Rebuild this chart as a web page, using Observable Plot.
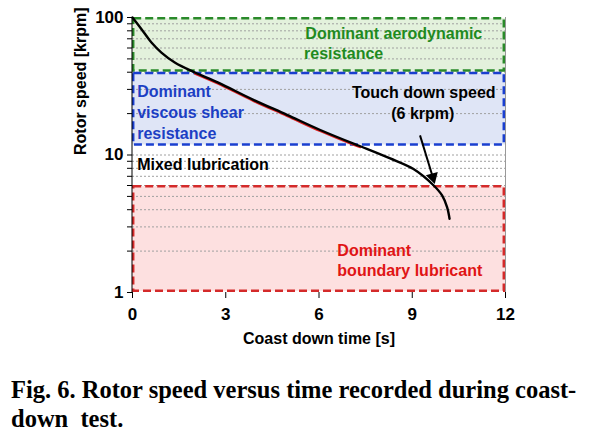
<!DOCTYPE html>
<html>
<head>
<meta charset="utf-8">
<script src="https://cdn.jsdelivr.net/npm/d3@7"></script>
<script src="https://cdn.jsdelivr.net/npm/@observablehq/plot@0.6"></script>
<style>
  html, body { margin: 0; padding: 0; background: #fff; }
  #wrap { position: relative; width: 595px; height: 438px; }
  #caption { position: absolute; left: 11px; top: 375px; width: 580px;
    font-family: "Liberation Serif", "Times New Roman", serif; font-weight: bold;
    font-size: 24.5px; line-height: 29px; color: #000; white-space: nowrap; }
  #chart svg g[aria-label$="tick label"] { font-size: 17px; font-weight: bold; }
</style>
</head>
<body>
<div id="wrap"><div id="chart"></div>
<div id="caption">Fig. 6. Rotor speed versus time recorded during coast-<br>down&nbsp;&nbsp;test.</div></div>
<script>
// Coast-down curve (time in s, rotor speed in krpm)
const time  = [0, 0.29, 0.61, 0.93, 1.36, 2.01, 2.76, 3.89, 4.97, 6.04, 7.11, 7.54, 8.29, 9.04, 9.69, 9.96, 10.12, 10.2];
const speed = [100, 82.2, 65.8, 55.6, 47.1, 39.8, 33.6, 25.2, 19.6, 15.2, 12.1, 11.1, 9.45, 7.9, 6.0, 5.08, 4.17, 3.44];
// Fitted viscous-shear segment (red)
const fitTime  = [2.01, 2.76, 3.89, 4.97, 6.04, 7.11, 7.33];
const fitSpeed = [39.8, 33.6, 25.2, 19.6, 15.2, 12.1, 11.6];
// Regimes
const regimeNames = ["aero", "viscous", "boundary"];
const regimeLow   = [40, 11.6, 1];
const regimeHigh  = [100, 40, 6];
const regimeFill  = ["#e3f1dc", "#dfe5f6", "#fde0e0"];
const regimeStroke= ["#2a8a2a", "#1a3fd0", "#d42a2a"];
// Ticks
const xTicks = [0, 3, 6, 9, 12];
const yMajor = [1, 10, 100];
const yMinor = [2,3,4,5,6,7,8,9,20,30,40,50,60,70,80,90];
const gridVals = [2,3,4,5,6,7,8,9,10,20,30,40,50,60,70,80,90];

const curve = time.map((t, i) => ({t, s: speed[i]}));
const fit = fitTime.map((t, i) => ({t, s: fitSpeed[i]}));
const regimes = regimeNames.map((n, i) => ({n, lo: regimeLow[i], hi: regimeHigh[i], fill: regimeFill[i], stroke: regimeStroke[i]}));

const F = "Liberation Sans, Arial, Helvetica, sans-serif";
const lab = (text, x, y, color, anchor = "start") =>
  Plot.text([text], {x: () => x, y: () => y, text: d => d, fill: color, textAnchor: anchor,
    fontSize: 16, fontWeight: "bold", fontFamily: F, lineAnchor: "middle"});

const chart = Plot.plot({
  width: 595, height: 352,
  marginTop: 17, marginBottom: 60, marginLeft: 132, marginRight: 90,
  style: {fontFamily: F, fontSize: "16px", fontWeight: "bold", color: "#000", background: "#fff"},
  x: {domain: [0, 12]},
  y: {type: "log", domain: [1, 100]},
  marks: [
    Plot.rect(regimes, {x1: 0, x2: 12, y1: "lo", y2: "hi", fill: "fill", insetTop: 1.2, insetBottom: 1.2}),
    Plot.ruleY(gridVals, {x1: 0, x2: 12, stroke: "#a0a0a0", strokeWidth: 1, strokeDasharray: "2,2"}),
    Plot.ruleX([12], {y1: 1, y2: 100, stroke: "#999", strokeWidth: 1}),
    Plot.rect(regimes, {x1: 0, x2: 12, y1: "lo", y2: "hi", fill: "none", stroke: "stroke", strokeWidth: 2.5,
      strokeDasharray: "8,4", insetTop: 1.2, insetBottom: 1.2, insetLeft: 1.2, insetRight: 1.2}),
    Plot.ruleX([0], {y1: 1, y2: 100, stroke: "#000", strokeWidth: 1, dx: -0.5}),
    Plot.axisY({ticks: yMajor, tickFormat: d => String(d), tickSize: 5, tickPadding: 4, label: null, fontSize: 17}),
    Plot.axisY({ticks: yMinor, tickFormat: () => "", tickSize: 5, label: null}),
    Plot.axisX({ticks: xTicks, tickSize: 6, tickPadding: 9, label: null, fontSize: 17}),
    Plot.line(fit, {x: "t", y: "s", stroke: "#e02020", strokeWidth: 2, dy: 1.2, curve: "catmull-rom"}),
    Plot.line(curve, {x: "t", y: "s", stroke: "#000", strokeWidth: 2.4, curve: "catmull-rom"}),
    Plot.link([0], {x1: () => 9.25, y1: () => 13.9, x2: () => 9.66, y2: () => 6.91, stroke: "#000", strokeWidth: 2}),
    Plot.dot([0], {x: () => 9.66, y: () => 6.91, symbol: "triangle", r: 4.6, rotate: 164, fill: "#000", stroke: "none"}),
    lab("Dominant aerodynamic", 5.56, 75.9, "#1f8a1f"),
    lab("resistance", 5.52, 54.3, "#1f8a1f"),
    lab("Dominant", 0.15, 28.7, "#1c3fc4"),
    lab("viscous shear", 0.15, 20.2, "#1c3fc4"),
    lab("resistance", 0.15, 14.3, "#1c3fc4"),
    lab("Touch down speed", 9.37, 28.5, "#000", "middle"),
    lab("(6 krpm)", 9.34, 19.9, "#000", "middle"),
    lab("Mixed lubrication", 0.15, 8.46, "#000"),
    lab("Dominant", 6.59, 2.02, "#e01515"),
    lab("boundary lubricant", 6.59, 1.43, "#e01515"),
    Plot.text(["Coast down time [s]"], {frameAnchor: "bottom", dy: 46, text: d => d, fontSize: 16,
      fontWeight: "bold", fontFamily: F, lineAnchor: "middle"}),
    Plot.text(["Rotor speed [krpm]"], {frameAnchor: "left", dx: -52, rotate: -90, text: d => d, fontSize: 16,
      fontWeight: "bold", fontFamily: F, lineAnchor: "middle"})
  ]
});
document.getElementById("chart").appendChild(chart);
</script>
</body>
</html>
